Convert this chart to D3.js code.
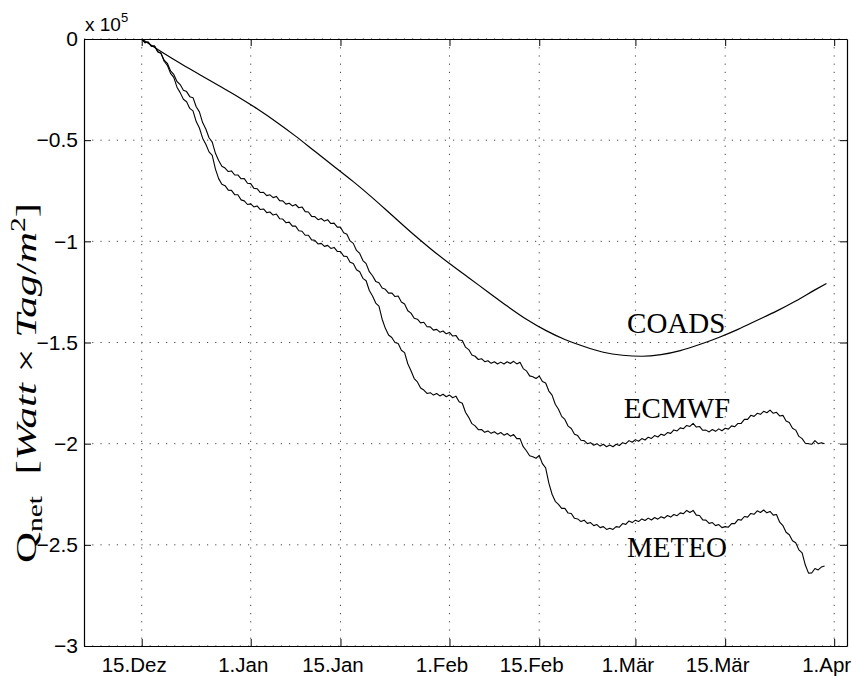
<!DOCTYPE html>
<html>
<head>
<meta charset="utf-8">
<script src="https://cdn.jsdelivr.net/npm/d3@7"></script>
<style>
  body { margin: 0; background: #fff; }
  .tick text { font-family: 'Liberation Sans', Arial, sans-serif; }
</style>
</head>
<body>
<div id="chart"></div>
<script>
// ---- data (values in units of 1e5 Watt x Tag / m^2) ----
let startDate = Date.UTC(1995, 11, 15); // 15.Dez
let stepDays = 0.5; // ECMWF / METEO sampled every half day from 15.Dez

let tickDates = [[1995, 11, 15], [1996, 0, 1], [1996, 0, 15], [1996, 1, 1], [1996, 1, 15], [1996, 2, 1], [1996, 2, 15], [1996, 3, 1]];
let tickLabels = ['15.Dez', '1.Jan', '15.Jan', '1.Feb', '15.Feb', '1.Mär', '15.Mär', '1.Apr'];
let yTicks = [0, -0.5, -1, -1.5, -2, -2.5, -3];
let yTickLabels = ['0', '\u22120.5', '\u22121', '\u22121.5', '\u22122', '\u22122.5', '\u22123'];

let coadsDays = [0, 3, 6, 9, 12, 15, 18, 21, 24, 27, 30, 33, 36, 39, 42, 45, 48, 51, 54, 57, 60, 63, 66, 69, 72, 75, 78, 81, 84, 87, 90, 93, 96, 99, 102, 105, 106.8];
let coads = [0, -0.062, -0.12, -0.175, -0.23, -0.285, -0.345, -0.41, -0.48, -0.555, -0.63, -0.705, -0.785, -0.87, -0.955, -1.035, -1.11, -1.18, -1.25, -1.32, -1.385, -1.44, -1.485, -1.52, -1.548, -1.563, -1.568, -1.56, -1.54, -1.51, -1.475, -1.435, -1.39, -1.345, -1.295, -1.24, -1.208];

let ecmwf = [
  0, -0.018, -0.015, -0.035, -0.035, -0.063, -0.07, -0.105, -0.12, -0.158,
  -0.175, -0.21, -0.225, -0.253, -0.26, -0.285, -0.29, -0.335, -0.36, -0.413,
  -0.445, -0.488, -0.51, -0.565, -0.6, -0.629, -0.638, -0.655, -0.652, -0.672,
  -0.672, -0.691, -0.69, -0.713, -0.715, -0.738, -0.74, -0.759, -0.758, -0.774,
  -0.77, -0.784, -0.778, -0.799, -0.8, -0.816, -0.812, -0.825, -0.818, -0.834,
  -0.83, -0.853, -0.855, -0.877, -0.878, -0.893, -0.887, -0.9, -0.893, -0.912,
  -0.91, -0.93, -0.93, -0.958, -0.965, -0.998, -1.01, -1.045, -1.06, -1.095,
  -1.11, -1.15, -1.17, -1.198, -1.205, -1.231, -1.237, -1.256, -1.255, -1.273,
  -1.27, -1.3, -1.31, -1.343, -1.355, -1.38, -1.385, -1.403, -1.4, -1.422,
  -1.423, -1.439, -1.435, -1.449, -1.443, -1.457, -1.45, -1.468, -1.465, -1.488,
  -1.49, -1.523, -1.535, -1.562, -1.568, -1.584, -1.58, -1.595, -1.59, -1.603,
  -1.595, -1.606, -1.597, -1.606, -1.595, -1.604, -1.593, -1.606, -1.598, -1.629,
  -1.64, -1.665, -1.669, -1.678, -1.666, -1.693, -1.7, -1.74, -1.76, -1.805,
  -1.83, -1.865, -1.88, -1.913, -1.925, -1.953, -1.96, -1.983, -1.985, -2.0,
  -1.995, -2.008, -2.0, -2.012, -2.003, -2.015, -2.007, -2.015, -2.003, -2.009,
  -1.995, -2.0, -1.985, -1.993, -1.98, -1.988, -1.975, -1.982, -1.968, -1.974,
  -1.96, -1.967, -1.953, -1.959, -1.945, -1.949, -1.932, -1.937, -1.922, -1.926,
  -1.91, -1.915, -1.9, -1.918, -1.915, -1.934, -1.933, -1.942, -1.93, -1.939,
  -1.927, -1.936, -1.924, -1.928, -1.912, -1.916, -1.9, -1.9, -1.88, -1.88,
  -1.86, -1.865, -1.85, -1.855, -1.84, -1.847, -1.834, -1.85, -1.845, -1.863,
  -1.86, -1.888, -1.895, -1.924, -1.933, -1.964, -1.975, -1.998, -2.0, -2.003,
  -1.985, -2.0, -1.995, -2.0
];

let meteo = [
  0, -0.018, -0.015, -0.035, -0.035, -0.063, -0.07, -0.11, -0.13, -0.17,
  -0.19, -0.238, -0.265, -0.298, -0.31, -0.343, -0.355, -0.408, -0.44, -0.49,
  -0.52, -0.558, -0.575, -0.643, -0.69, -0.718, -0.725, -0.747, -0.748, -0.769,
  -0.77, -0.795, -0.8, -0.818, -0.815, -0.83, -0.825, -0.843, -0.84, -0.858,
  -0.855, -0.87, -0.865, -0.888, -0.89, -0.908, -0.905, -0.925, -0.925, -0.948,
  -0.95, -0.97, -0.97, -0.993, -0.995, -1.013, -1.01, -1.025, -1.02, -1.035,
  -1.03, -1.05, -1.05, -1.073, -1.075, -1.103, -1.11, -1.14, -1.15, -1.183,
  -1.195, -1.243, -1.27, -1.305, -1.32, -1.385, -1.43, -1.463, -1.475, -1.5,
  -1.505, -1.538, -1.55, -1.605, -1.64, -1.678, -1.695, -1.725, -1.735, -1.752,
  -1.748, -1.76, -1.752, -1.764, -1.756, -1.768, -1.76, -1.773, -1.765, -1.793,
  -1.8, -1.845, -1.87, -1.901, -1.912, -1.931, -1.93, -1.944, -1.937, -1.949,
  -1.941, -1.953, -1.945, -1.958, -1.95, -1.963, -1.955, -1.975, -1.975, -2.015,
  -2.035, -2.06, -2.065, -2.072, -2.058, -2.099, -2.12, -2.195, -2.25, -2.285,
  -2.3, -2.32, -2.32, -2.343, -2.345, -2.369, -2.372, -2.385, -2.378, -2.394,
  -2.39, -2.405, -2.4, -2.415, -2.41, -2.424, -2.418, -2.424, -2.41, -2.413,
  -2.395, -2.399, -2.382, -2.39, -2.378, -2.385, -2.372, -2.38, -2.368, -2.377,
  -2.365, -2.373, -2.361, -2.368, -2.355, -2.363, -2.35, -2.356, -2.342, -2.346,
  -2.33, -2.34, -2.33, -2.353, -2.355, -2.377, -2.378, -2.394, -2.39, -2.405,
  -2.4, -2.415, -2.41, -2.413, -2.395, -2.395, -2.375, -2.378, -2.36, -2.363,
  -2.345, -2.349, -2.332, -2.34, -2.328, -2.342, -2.335, -2.353, -2.35, -2.388,
  -2.405, -2.438, -2.45, -2.48, -2.49, -2.525, -2.54, -2.6, -2.64, -2.639,
  -2.617, -2.624, -2.61, -2.605
];

// series names and where their labels sit (day after 15.Dez, value)
let labelNames = ['COADS', 'ECMWF', 'METEO'];
let labelDays = [75.7, 75.2, 75.7];
let labelValues = [-1.453, -1.873, -2.56];

// ---- layout ----
let width = 852, height = 679;
let margin = { top: 39, right: 5, bottom: 33, left: 84 };
let tickLen = 7;
let fontSans = "'Liberation Sans', Arial, sans-serif";
let fontSerif = "'Liberation Serif', 'DejaVu Serif', serif";

let dayToDate = (d) => new Date(startDate + d * 864e5);

let x = d3
  .scaleUtc()
  .domain([Date.UTC(1995, 11, 6), Date.UTC(1996, 3, 3)])
  .range([margin.left, width - margin.right]);

let y = d3
  .scaleLinear()
  .domain([-3, 0])
  .range([height - margin.bottom, margin.top]);

let tickValues = tickDates.map((t) => new Date(Date.UTC(t[0], t[1], t[2])));

const svg = d3
  .select('#chart')
  .append('svg')
  .attr('width', width)
  .attr('height', height)
  .style('background', '#fff');

// dotted grid
let grid = svg.append('g').attr('class', 'grid');
grid
  .selectAll('line.gx')
  .data(tickValues)
  .join('line')
  .attr('x1', (d) => x(d))
  .attr('x2', (d) => x(d))
  .attr('y1', y(0))
  .attr('y2', y(-3));
grid
  .selectAll('line.gy')
  .data(yTicks)
  .join('line')
  .attr('x1', x.range()[0])
  .attr('x2', x.range()[1])
  .attr('y1', (d) => y(d))
  .attr('y2', (d) => y(d));
grid
  .selectAll('line')
  .attr('stroke', '#444')
  .attr('stroke-width', 1)
  .attr('stroke-dasharray', '1.2,7');

// axes, ticks pointing inward like matlab
let xBottom = d3
  .axisBottom(x)
  .tickValues(tickValues)
  .tickFormat((d, i) => tickLabels[i])
  .tickSizeInner(-tickLen)
  .tickSizeOuter(0)
  .tickPadding(11);
let xTop = d3.axisTop(x).tickValues(tickValues).tickFormat('').tickSizeInner(-tickLen).tickSizeOuter(0);
let yLeft = d3
  .axisLeft(y)
  .tickValues(yTicks)
  .tickFormat((d, i) => yTickLabels[i])
  .tickSizeInner(-tickLen)
  .tickSizeOuter(0)
  .tickPadding(6);
let yRight = d3.axisRight(y).tickValues(yTicks).tickFormat('').tickSizeInner(-tickLen).tickSizeOuter(0);

let styleAxis = (g) => {
  g.select('.domain').attr('stroke', '#000').attr('stroke-width', 1.2);
  g.selectAll('.tick line').attr('stroke', '#000');
  g.selectAll('.tick text').attr('fill', '#000');
};

let gx = svg.append('g').attr('transform', `translate(0,${y(-3)})`).call(xBottom).call(styleAxis);
svg.append('g').attr('transform', `translate(0,${y(0)})`).call(xTop).call(styleAxis);
let gy = svg.append('g').attr('transform', `translate(${x.range()[0]},0)`).call(yLeft).call(styleAxis);
svg.append('g').attr('transform', `translate(${x.range()[1]},0)`).call(yRight).call(styleAxis);

gy.selectAll('.tick text').attr('font-size', 21);
// date labels sit a little left of their ticks in the original
gx.selectAll('.tick text').attr('font-size', 20.5).attr('dx', -8);

// keep the last date label inside the picture
gx.selectAll('.tick text').each(function () {
  let box = this.getBBox();
  let tx = x(d3.select(this.parentNode).datum());
  let over = tx + box.x + box.width - 8 - (width - 1);
  if (over > 0) d3.select(this).attr('dx', -8 - over);
});

// exponent label
svg
  .append('text')
  .attr('x', x.range()[0] + 1)
  .attr('y', y(0) - 8)
  .attr('font-family', fontSans)
  .attr('font-size', 19)
  .text('x 10')
  .append('tspan')
  .attr('font-size', 13)
  .attr('dy', -9)
  .text('5');

// lines
let line = d3
  .line()
  .x((d) => x(d.date))
  .y((d) => y(d.value));

let halfStep = (arr) => arr.map((v, i) => ({ date: dayToDate(i * stepDays), value: v }));
let coadsData = coads.map((v, i) => ({ date: dayToDate(coadsDays[i]), value: v }));

svg
  .append('path')
  .datum(coadsData)
  .attr('fill', 'none')
  .attr('stroke', '#000')
  .attr('stroke-width', 1.2)
  .attr('d', line.curve(d3.curveMonotoneX));

line.curve(d3.curveLinear);
[ecmwf, meteo].forEach((s) => {
  svg
    .append('path')
    .datum(halfStep(s))
    .attr('fill', 'none')
    .attr('stroke', '#000')
    .attr('stroke-width', 1.1)
    .attr('stroke-linejoin', 'round')
    .attr('d', line);
});

// series labels
svg
  .selectAll('.series-label')
  .data(labelNames)
  .join('text')
  .attr('class', 'series-label')
  .attr('x', (d, i) => x(dayToDate(labelDays[i])))
  .attr('y', (d, i) => y(labelValues[i]))
  .attr('font-family', fontSerif)
  .attr('font-size', 29)
  .text((d) => d);

// y axis label, stretched to the length it has in the original
let yl = svg
  .append('text')
  .attr('transform', `translate(36,${(y(-0.81) + y(-2.59)) / 2}) rotate(-90)`)
  .attr('text-anchor', 'middle')
  .attr('font-family', fontSerif)
  .attr('font-size', 29)
  .attr('textLength', y(-2.59) - y(-0.81))
  .attr('lengthAdjust', 'spacingAndGlyphs');
yl.append('tspan').text('Q');
yl.append('tspan').attr('font-size', 20).attr('dy', 6).text('net');
yl.append('tspan').attr('dy', -6).text('\u2002[');
yl.append('tspan').attr('font-style', 'italic').text('Watt');
yl.append('tspan').text(' \u00d7 ');
yl.append('tspan').attr('font-style', 'italic').text('Tag');
yl.append('tspan').text('/');
yl.append('tspan').attr('font-style', 'italic').text('m');
yl.append('tspan').attr('font-size', 20).attr('dy', -11).text('2');
yl.append('tspan').attr('dy', 11).text(']');
</script>
</body>
</html>
